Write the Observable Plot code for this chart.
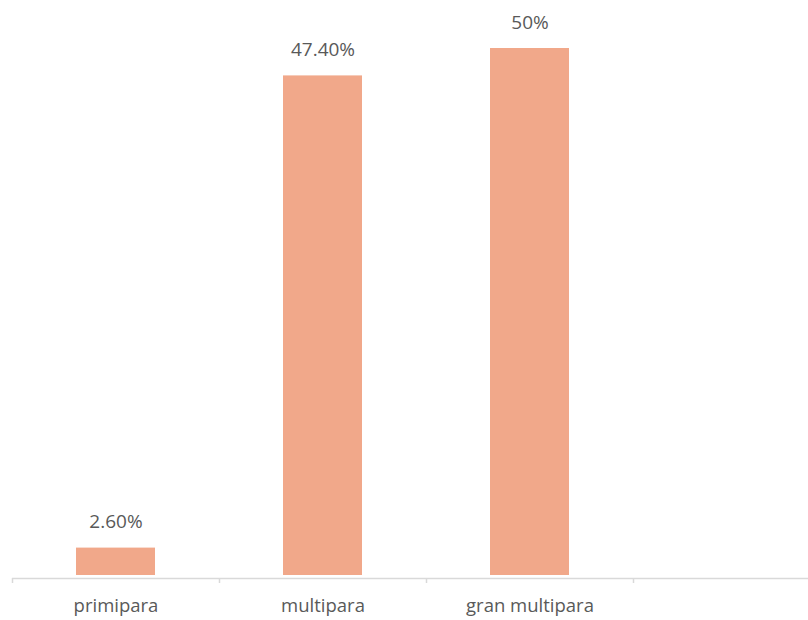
<!DOCTYPE html>
<html>
<head>
<meta charset="utf-8">
<script src="https://cdn.jsdelivr.net/npm/d3@7"></script>
<script src="https://cdn.jsdelivr.net/npm/@observablehq/plot@0.6"></script>
<style>
  html, body { margin: 0; padding: 0; background: #fff; }
  svg { display: block; }
</style>
</head>
<body>
<div id="chart"></div>
<script>
const categories = ["primipara", "multipara", "gran multipara", ""];
const values = [2.6, 47.4, 50];
const valueLabels = ["2.60%", "47.40%", "50%"];

const data = values.map((v, i) => ({cat: categories[i], value: v, label: valueLabels[i]}));

const chart = Plot.plot({
  width: 808,
  height: 620,
  marginLeft: 12,
  marginRight: -32,
  marginTop: 48,
  marginBottom: 45,
  style: {fontFamily: "'Open Sans', sans-serif", color: "#595959", background: "#fff"},
  x: {domain: categories, paddingInner: 0.62, paddingOuter: 0.31, align: 0.5, axis: null},
  y: {domain: [0, 50], axis: null},
  marks: [
    Plot.barY(data, {x: "cat", y: "value", fill: "#f1a88a"}),
    Plot.ruleY([0], {stroke: "#d9d9d9", strokeWidth: 1.5, dy: 3}),
    Plot.axisX({ticks: categories, tickSize: 5, tickFormat: null, label: null, dx: -103.5, dy: 3, stroke: "#d9d9d9", strokeWidth: 1.5, strokeOpacity: 1}),
    Plot.axisX({ticks: categories.slice(0, 3), tickSize: 0, tickPadding: 23, label: null, fontSize: 18.5, fill: "#595959"}),
    Plot.text(data, {x: "cat", y: "value", text: "label", dy: -26, lineAnchor: "middle", fontSize: 19, fill: "#595959"})
  ]
});
document.getElementById("chart").appendChild(chart);
</script>
</body>
</html>
